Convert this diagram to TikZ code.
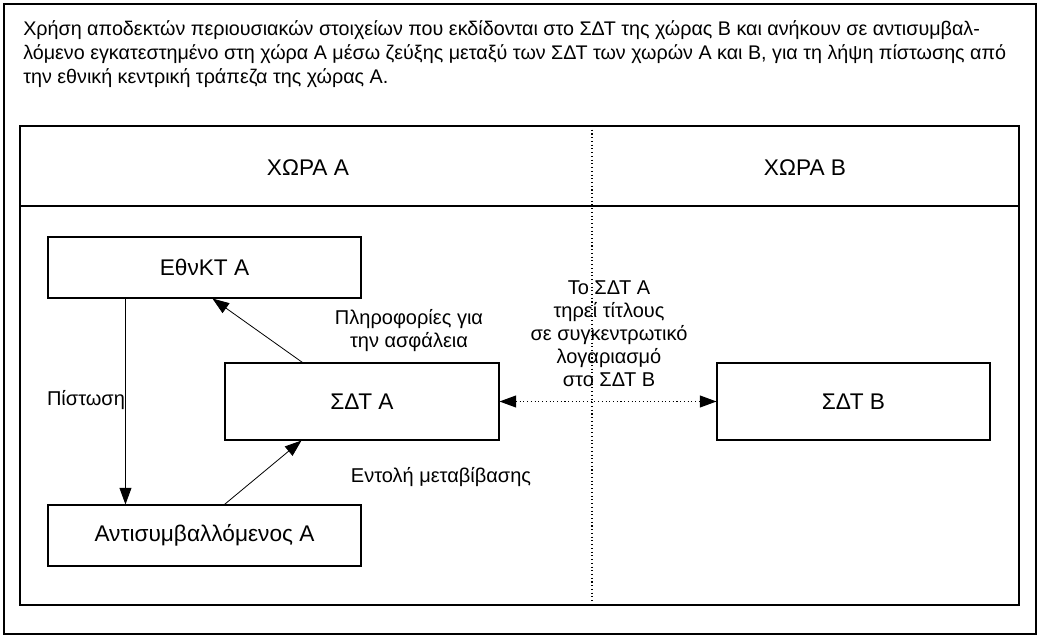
\documentclass[tikz,border=0pt]{standalone}
\usepackage{fontspec}
\setmainfont{Liberation Sans}
\usetikzlibrary{arrows.meta}
\begin{document}
\begin{tikzpicture}[x=0.75pt,y=-0.75pt,
  bigtxt/.style={font=\fontsize{17}{20}\selectfont},
  box/.style={draw, line width=0.8pt, inner sep=0pt, bigtxt},
  tip/.style={Triangle[length=12.5pt,width=9pt]},
  arr/.style={line width=0.6pt, -{Triangle[length=12.5pt,width=9pt]}},
  lbl/.style={align=center, inner sep=0pt, font=\fontsize{15}{17.25}\selectfont}]
\useasboundingbox (0,0) rectangle (1040,638);
\draw[line width=0.8pt] (4,4) rectangle (1036,634);
\node[anchor=north west, align=left, inner sep=0pt, font=\fontsize{14.8}{18}\selectfont] (title) at (23,20)
 {Χρήση αποδεκτών περιουσιακών στοιχείων που εκδίδονται στο ΣΔΤ της χώρας Β και ανήκουν σε αντισυμβαλ-\\
 λόμενο εγκατεστημένο στη χώρα Α μέσω ζεύξης μεταξύ των ΣΔΤ των χωρών Α και Β, για τη λήψη πίστωσης από\\
 την εθνική κεντρική τράπεζα της χώρας Α.};
\draw[line width=1pt] (20,126) rectangle (1019,605);
\draw[line width=1pt] (20,206) -- (1019,206);
\draw[dotted, line width=0.8pt] (592,126) -- (592,605);
\node[bigtxt] (ha) at (308,168) {ΧΩΡΑ Α};
\node[bigtxt] (hb) at (805,168) {ΧΩΡΑ Β};
\node[box, minimum width=234.75pt, minimum height=45.75pt] (ekt) at (204.5,267.5) {ΕθνΚΤ Α};
\node[box, minimum width=205.5pt, minimum height=57.75pt] (sdta) at (362,401.5) {ΣΔΤ Α};
\node[box, minimum width=204.75pt, minimum height=57.75pt] (sdtb) at (853.5,401.5) {ΣΔΤ Β};
\node[box, minimum width=234.75pt, minimum height=45.75pt] (ant) at (204.5,535.5) {Αντισυμβαλλόμενος Α};
\draw[arr] ([xshift=58.5pt]ekt.south west) -- ([xshift=58.5pt]ant.north west);
\draw[arr] ([xshift=58.5pt]sdta.north west) -- ([xshift=123.75pt]ekt.south west);
\draw[arr] ([xshift=132.75pt]ant.north west) -- ([xshift=57.75pt]sdta.south west);
\draw[dotted, line width=0.8pt, {Triangle[length=12.5pt,width=9pt]}-{Triangle[length=12.5pt,width=9pt]}] (sdta.east) -- (sdtb.west);
\node[lbl] (pist) at (86,400) {Πίστωση};
\node[lbl] (plir) at (409,331) {Πληροφορίες για\\την ασφάλεια};
\node[lbl] (entoli) at (441,477) {Εντολή μεταβίβασης};
\node[lbl] (tiri) at (609,334) {Το ΣΔΤ Α\\τηρεί τίτλους\\σε συγκεντρωτικό\\λογαριασμό\\στο ΣΔΤ Β};
\end{tikzpicture}
\end{document}
